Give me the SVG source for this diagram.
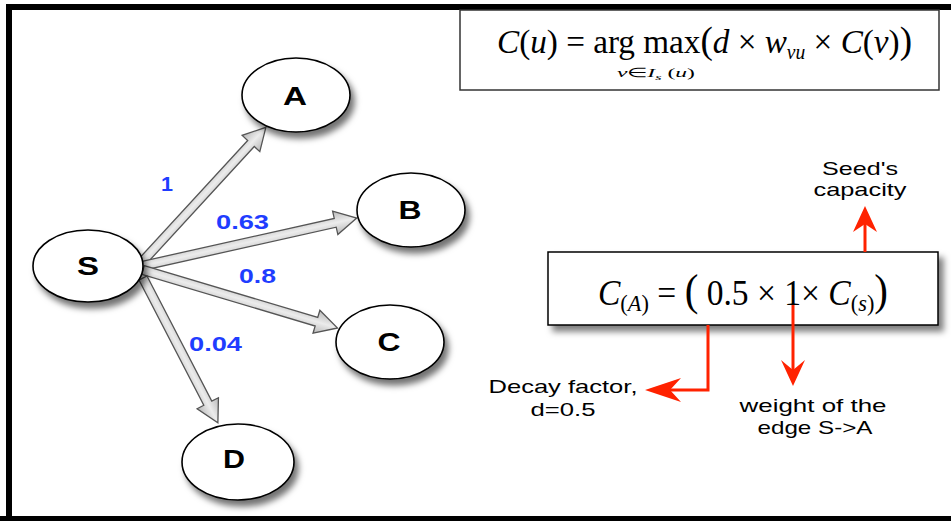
<svg xmlns="http://www.w3.org/2000/svg" width="951" height="521" viewBox="0 0 951 521">
<defs>
<filter id="sh" x="-30%" y="-30%" width="160%" height="170%">
<feDropShadow dx="4" dy="6" stdDeviation="3" flood-color="#000" flood-opacity="0.55"/>
</filter>
<filter id="bsh" x="-10%" y="-20%" width="120%" height="150%">
<feDropShadow dx="5" dy="6" stdDeviation="3" flood-color="#000" flood-opacity="0.5"/>
</filter>
<linearGradient id="ag" x1="0" y1="0" x2="0" y2="1">
<stop offset="0" stop-color="#b8b8b8"/>
<stop offset="0.5" stop-color="#ececec"/>
<stop offset="1" stop-color="#b8b8b8"/>
</linearGradient>
</defs>
<style>
.node ellipse{fill:#fff;stroke:#000;stroke-width:1.6;filter:url(#sh)}
.node text{font-family:"Liberation Sans",Arial,sans-serif;font-weight:bold;font-size:25px;text-anchor:middle;fill:#000}
.arr{fill:url(#ag);stroke:#555;stroke-width:1.3;stroke-linejoin:miter}
.w{font-family:"Liberation Sans",Arial,sans-serif;font-weight:bold;font-size:20px;fill:#1f3dff}
.lab{font-family:"Liberation Sans",Arial,sans-serif;font-size:19px;fill:#000;text-anchor:middle}
.red{stroke:#ff2200;stroke-width:3;fill:none}
.redh{fill:#ff2200}
.mth{font-family:"Liberation Serif","Times New Roman",serif;fill:#000}
</style>
<rect width="951" height="521" fill="#fff"/>
<path d="M9,521 V7 H951" fill="none" stroke="#000" stroke-width="6"/>
<rect x="0" y="516" width="951" height="5" fill="#000"/>

<g id="connectors">
<g transform="translate(142,262) rotate(-47.4)"><polygon class="arr" points="0,-4.5 161,-4.5 161,-12 183,0 161,12 161,4.5 0,4.5"/></g>
<g transform="translate(142,266) rotate(-12.6)"><polygon class="arr" points="0,-4.5 198,-4.5 198,-12 220,0 198,12 198,4.5 0,4.5"/></g>
<g transform="translate(143,270) rotate(16.6)"><polygon class="arr" points="0,-4.5 181,-4.5 181,-12 203,0 181,12 181,4.5 0,4.5"/></g>
<g transform="translate(143,278) rotate(62.65)"><polygon class="arr" points="0,-4.5 141,-4.5 141,-12 163,0 141,12 141,4.5 0,4.5"/></g>
<text class="w" x="161" y="191" textLength="12" lengthAdjust="spacingAndGlyphs">1</text>
<text class="w" x="216" y="229" textLength="53" lengthAdjust="spacingAndGlyphs">0.63</text>
<text class="w" x="239" y="283" textLength="37" lengthAdjust="spacingAndGlyphs">0.8</text>
<text class="w" x="189" y="351" textLength="53" lengthAdjust="spacingAndGlyphs">0.04</text>
</g>

<g id="node-S" class="node"><ellipse cx="88" cy="266" rx="55" ry="36"/><text x="88" y="275" textLength="22" lengthAdjust="spacingAndGlyphs">S</text></g>
<g id="node-A" class="node"><ellipse cx="296" cy="95" rx="54" ry="37"/><text x="295" y="105" textLength="24" lengthAdjust="spacingAndGlyphs">A</text></g>
<g id="node-B" class="node"><ellipse cx="411" cy="210" rx="54" ry="37"/><text x="410" y="219" textLength="23" lengthAdjust="spacingAndGlyphs">B</text></g>
<g id="node-C" class="node"><ellipse cx="390" cy="342" rx="54" ry="37"/><text x="389" y="351" textLength="23" lengthAdjust="spacingAndGlyphs">C</text></g>
<g id="node-D" class="node"><ellipse cx="238" cy="462" rx="56" ry="38"/><text x="234" y="468" textLength="22" lengthAdjust="spacingAndGlyphs">D</text></g>

<g id="formula-top">
<rect x="460" y="10" width="479" height="80" fill="#fff" stroke="#333" stroke-width="1.5"/>
<text class="mth" x="497" y="53" font-size="34" textLength="415" lengthAdjust="spacingAndGlyphs"><tspan font-style="italic">C</tspan>(<tspan font-style="italic">u</tspan>) = arg max<tspan font-size="38">(</tspan><tspan font-style="italic">d</tspan> × <tspan font-style="italic">w</tspan><tspan font-style="italic" font-size="20" dy="6">vu</tspan><tspan dy="-6"> × </tspan><tspan font-style="italic">C</tspan>(<tspan font-style="italic">v</tspan>)<tspan font-size="38">)</tspan></text>
<text class="mth" x="617" y="77" font-size="13" textLength="78" lengthAdjust="spacingAndGlyphs"><tspan font-style="italic">v</tspan>∈<tspan font-style="italic">I</tspan><tspan font-size="9" dy="3" font-style="italic">s</tspan><tspan dy="-3"> (</tspan><tspan font-style="italic">u</tspan>)</text>
</g>

<g id="formula-box">
<rect x="548" y="252" width="390" height="73" fill="#fff" stroke="#000" stroke-width="1.5" filter="url(#bsh)"/>
<text class="mth" x="598" y="305" font-size="36" textLength="290" lengthAdjust="spacingAndGlyphs"><tspan font-style="italic">C</tspan><tspan font-size="24" dy="6">(<tspan font-style="italic">A</tspan>)</tspan><tspan dy="-6"> = </tspan><tspan font-size="44">(</tspan> 0.5 × 1× <tspan font-style="italic">C</tspan><tspan font-size="24" dy="6">(<tspan font-style="italic">s</tspan>)</tspan><tspan dy="-6" font-size="44">)</tspan></text>
</g>

<g id="callouts">
<path class="red" d="M865,252 V222"/>
<polygon class="redh" points="865,206 877,232 865,224 853,232"/>
<path class="red" d="M708,325 V390 H666"/>
<polygon class="redh" points="645,390 681,378 670,390 681,402"/>
<path class="red" d="M793,305 V372"/>
<polygon class="redh" points="793,386 805,360 793,370 781,360"/>
<text class="lab" x="860" y="175" textLength="76" lengthAdjust="spacingAndGlyphs">Seed's</text>
<text class="lab" x="860" y="196" textLength="93" lengthAdjust="spacingAndGlyphs">capacity</text>
<text class="lab" x="563" y="393" textLength="149" lengthAdjust="spacingAndGlyphs">Decay factor,</text>
<text class="lab" x="563" y="416" textLength="65" lengthAdjust="spacingAndGlyphs">d=0.5</text>
<text class="lab" x="813" y="412" textLength="147" lengthAdjust="spacingAndGlyphs">weight of the</text>
<text class="lab" x="815" y="434" textLength="115" lengthAdjust="spacingAndGlyphs">edge S-&gt;A</text>
</g>
</svg>
